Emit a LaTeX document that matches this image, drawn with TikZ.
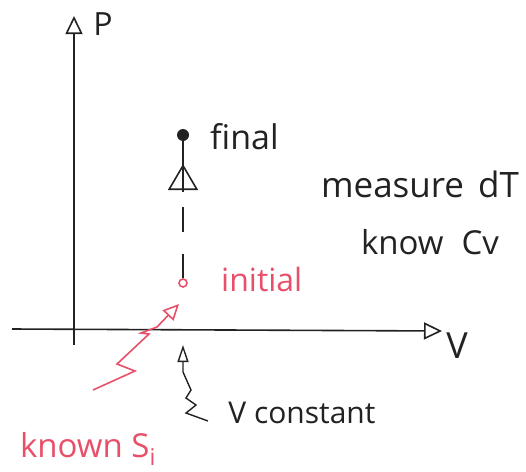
\documentclass[tikz,border=0pt]{standalone}
\usepackage{fontspec}
\setmainfont{Open Sans}
\usetikzlibrary{arrows.meta,decorations.markings}
\definecolor{ink}{HTML}{222222}
\definecolor{redink}{HTML}{E8506A}
\tikzset{
  axis/.style={draw=ink, line width=1.6pt, -{Triangle[open,length=18pt,width=17pt,line width=1.6pt]}},
  lbl/.style={text=ink, inner sep=0pt, font=\fontsize{30}{32}\selectfont},
  redlbl/.style={text=redink, inner sep=0pt, font=\fontsize{32}{34}\selectfont},
  pnt/.style={circle, inner sep=0pt, minimum size=9pt},
  seg/.style={ink, line width=1.6pt},
}
\begin{document}
\begin{tikzpicture}[x=1pt,y=-1pt]
\useasboundingbox (0,0) rectangle (526,471);
% axes
\coordinate (vstart) at (12,329);
\coordinate (vend) at (442,331);
\coordinate (pstart) at (74,345);
\coordinate (pend) at (74,16);
\draw[axis] (pstart) -- (pend);
\draw[axis] (vstart) -- (vend);
\node[lbl, font=\fontsize{32}{34}\selectfont] (P) at (103,24) {P};
\node[lbl, font=\fontsize{36}{38}\selectfont] (V) at (457,346) {V};
% points
\node[pnt, fill=ink, minimum size=12pt] (final) at (183,135) {};
\node[pnt, draw=redink, line width=1.6pt, minimum size=8pt] (init) at (183,283) {};
\node[lbl, anchor=west, font=\fontsize{34}{36}\selectfont] (finallbl) at (210,137) {final};
\node[redlbl, anchor=west] (initlbl) at (221,279) {initial};
% process line
\coordinate (d1) at (183,232);
\coordinate (d2) at (183,207);
\coordinate (abase) at (183,192);
\coordinate (atip) at (183,164);
\draw[seg] (init.north) -- ++(0,-24);
\draw[seg] (d1) -- (d2);
\draw[seg, -{Triangle[open,length=26pt,width=30pt,line width=1.6pt]}] (abase) -- (atip);
\draw[seg] (abase) -- (atip) -- (final.south);
% right texts
\node[lbl, font=\fontsize{35}{37}\selectfont] (meas) at (420,184) {measure\hspace{14pt}dT};
\node[lbl, font=\fontsize{33}{35}\selectfont] (know) at (430,242) {know\hspace{18pt}Cv};
% V constant
\node[lbl] (vconst) at (302,413) {V constant};
\coordinate (vtip) at (183,345);
\draw[ink, line width=1.4pt, -{Triangle[open,length=17pt,width=11pt,line width=1.4pt]}]
  (208,421) -- (186,413) -- (196,405) -- (186,398) -- (191,390) -- (183,372) -- (vtip);
% known S_i
\node[redlbl, font=\fontsize{33}{35}\selectfont] (known) at (88,449) {known S\textsubscript{i}};
\coordinate (redtip) at (179,304);
\draw[redink, line width=1.6pt, -{Triangle[open,length=16pt,width=15pt,line width=1.6pt]}]
  (93,390) -- (135,371) -- (117,364) -- (149,334) -- (141,333) -- (157,327) -- (redtip);
\end{tikzpicture}
\end{document}
